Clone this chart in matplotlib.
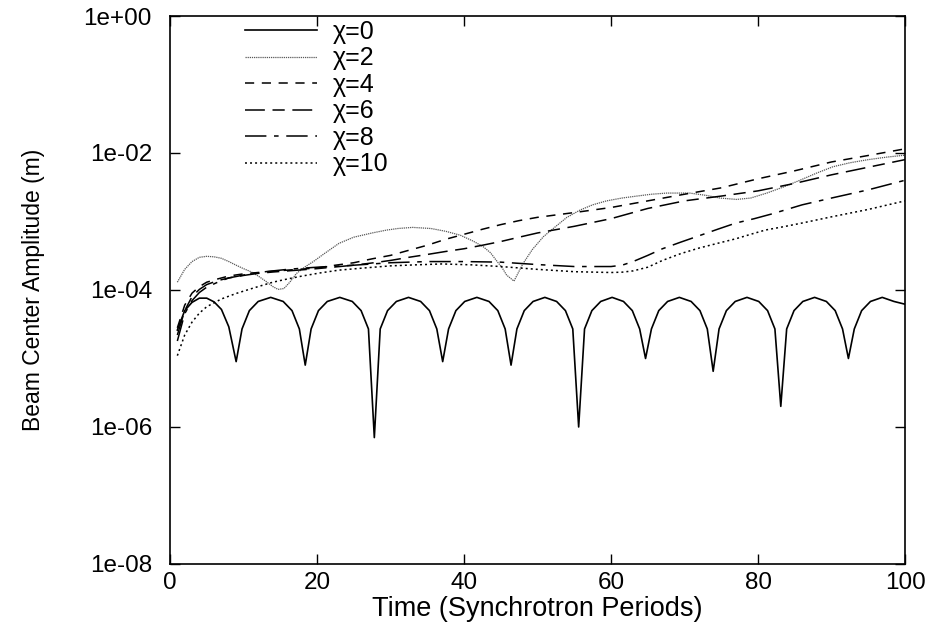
import matplotlib.pyplot as plt
import numpy as np

# chi = 0 (solid, oscillating)
t0 = [1, 2, 3, 4, 5, 6, 7, 8, 9.0,
      9.8, 10.8, 12.0, 13.7, 15.4, 16.6, 17.6, 18.4,
      19.2, 20.2, 21.4, 23.1, 24.8, 26.0, 27.0, 27.8,
      28.6, 29.6, 30.8, 32.45, 34.1, 35.3, 36.3, 37.1,
      37.9, 38.9, 40.1, 41.75, 43.4, 44.6, 45.6, 46.4,
      47.2, 48.2, 49.4, 51.0, 52.6, 53.8, 54.8, 55.6,
      56.4, 57.4, 58.6, 60.15, 61.7, 62.9, 63.9, 64.7,
      65.5, 66.5, 67.7, 69.3, 70.9, 72.1, 73.1, 73.9,
      74.7, 75.7, 76.9, 78.5, 80.1, 81.3, 82.3, 83.1,
      83.9, 84.9, 86.1, 87.7, 89.3, 90.5, 91.5, 92.3,
      93.1, 94.1, 95.3, 96.9, 98.5, 100]
a0 = [2.6e-5, 5.0e-5, 6.6e-5, 7.6e-5, 7.6e-5, 6.7e-5, 5.2e-5, 2.9e-5, 9e-6,
      2.7e-5, 5.0e-5, 6.8e-5, 7.8e-5, 6.8e-5, 5.0e-5, 2.7e-5, 8e-6,
      2.7e-5, 5.0e-5, 6.8e-5, 7.8e-5, 6.8e-5, 5.0e-5, 2.7e-5, 7e-7,
      2.7e-5, 5.0e-5, 6.8e-5, 7.8e-5, 6.8e-5, 5.0e-5, 2.7e-5, 9e-6,
      2.7e-5, 5.0e-5, 6.8e-5, 7.8e-5, 6.8e-5, 5.0e-5, 2.7e-5, 8e-6,
      2.7e-5, 5.0e-5, 6.8e-5, 7.8e-5, 6.8e-5, 5.0e-5, 2.7e-5, 1e-6,
      2.7e-5, 5.0e-5, 6.8e-5, 7.8e-5, 6.8e-5, 5.0e-5, 2.7e-5, 1e-5,
      2.7e-5, 5.0e-5, 6.8e-5, 7.8e-5, 6.8e-5, 5.0e-5, 2.7e-5, 6.5e-6,
      2.7e-5, 5.0e-5, 6.8e-5, 7.8e-5, 6.8e-5, 5.0e-5, 2.7e-5, 2e-6,
      2.7e-5, 5.0e-5, 6.8e-5, 7.8e-5, 6.8e-5, 5.0e-5, 2.7e-5, 1e-5,
      2.7e-5, 5.0e-5, 6.8e-5, 7.8e-5, 6.8e-5, 6.2e-5]

# chi = 2
t2 = [1, 2, 3, 4, 5, 6, 7, 8, 9, 10, 11, 12, 13, 14, 14.7, 15.5, 16.3, 17.2, 18.3,
      19.5, 21, 23, 25, 27.5, 29.5, 31, 33, 35.5, 37.5, 39.5, 41.2, 42.6, 43.6,
      44.4, 45.2, 45.8, 46.8, 48, 49.3, 50.8, 52.5, 54, 55.8, 57.5, 59.4, 61.5,
      63.5, 65.5, 67.6, 70.7, 73, 74.8, 77.1, 79, 81.2, 83.5, 85.7, 88, 90.2,
      92.5, 95, 97.5, 100]
a2 = [1.3e-4, 2.0e-4, 2.6e-4, 3.0e-4, 3.1e-4, 3.05e-4, 2.9e-4, 2.6e-4, 2.3e-4,
      2.05e-4, 1.85e-4, 1.6e-4, 1.35e-4, 1.12e-4, 1.02e-4, 1.05e-4, 1.3e-4,
      1.74e-4, 2.15e-4, 2.6e-4, 3.4e-4, 4.8e-4, 5.9e-4, 6.8e-4, 7.5e-4, 7.9e-4,
      8.2e-4, 7.9e-4, 7.2e-4, 6.3e-4, 5.2e-4, 4.3e-4, 3.5e-4, 2.7e-4, 2.1e-4,
      1.65e-4, 1.35e-4, 2.4e-4, 3.9e-4, 6.0e-4, 8.5e-4, 1.15e-3, 1.47e-3,
      1.75e-3, 2.0e-3, 2.2e-3, 2.35e-3, 2.5e-3, 2.6e-3, 2.6e-3, 2.4e-3, 2.2e-3,
      2.1e-3, 2.2e-3, 2.6e-3, 3.2e-3, 4.0e-3, 5.1e-3, 6.3e-3, 7.2e-3, 8.0e-3,
      8.7e-3, 9.3e-3]

# chi = 4
t4 = [1, 2, 3, 4, 5, 6.5, 8, 10, 12, 14, 16, 18, 20, 22.5, 25, 27.5, 30, 32.5,
      35, 37.5, 40, 42.5, 45, 47.5, 50, 55, 60, 65, 70, 75, 80, 85, 90, 95, 100]
a4 = [2.8e-5, 6.0e-5, 9.0e-5, 1.12e-4, 1.3e-4, 1.45e-4, 1.6e-4, 1.72e-4, 1.8e-4,
      1.88e-4, 1.95e-4, 2.02e-4, 2.1e-4, 2.3e-4, 2.5e-4, 2.85e-4, 3.2e-4, 3.8e-4,
      4.5e-4, 5.5e-4, 6.5e-4, 7.7e-4, 9.0e-4, 1.03e-3, 1.15e-3, 1.35e-3, 1.6e-3,
      2.0e-3, 2.5e-3, 3.1e-3, 4.2e-3, 5.5e-3, 7.4e-3, 9.2e-3, 1.15e-2]

# chi = 6
t6 = [1, 2, 3, 4, 5, 6.5, 8, 10, 12, 14, 16, 18, 20, 22.5, 25, 27.5, 30, 32.5,
      35, 37.5, 40, 42.5, 45, 47.5, 50, 55, 60, 65, 70, 75, 80, 85, 90, 95, 100]
a6 = [2.2e-5, 5.0e-5, 8.0e-5, 1.02e-4, 1.2e-4, 1.37e-4, 1.5e-4, 1.63e-4, 1.75e-4,
      1.83e-4, 1.9e-4, 1.97e-4, 2.05e-4, 2.17e-4, 2.3e-4, 2.48e-4, 2.7e-4, 3.0e-4,
      3.3e-4, 3.65e-4, 4.0e-4, 4.5e-4, 5.1e-4, 5.9e-4, 6.8e-4, 8.5e-4, 1.1e-3,
      1.55e-3, 2.0e-3, 2.35e-3, 2.8e-3, 3.6e-3, 4.8e-3, 6.2e-3, 8.0e-3]

# chi = 8
t8 = [1, 2, 3, 4, 5, 6.5, 8, 10, 12, 14, 16, 18, 20, 22.5, 25, 27.5, 30, 35, 40,
      45, 50, 55, 60, 61.5, 63, 65, 67, 69.5, 72, 74.5, 77, 79.5, 82, 86, 90,
      95, 100]
a8 = [1.8e-5, 4.5e-5, 7.0e-5, 9.2e-5, 1.1e-4, 1.3e-4, 1.5e-4, 1.65e-4, 1.8e-4,
      1.9e-4, 2.0e-4, 2.08e-4, 2.15e-4, 2.22e-4, 2.3e-4, 2.4e-4, 2.5e-4, 2.6e-4,
      2.6e-4, 2.55e-4, 2.35e-4, 2.2e-4, 2.2e-4, 2.3e-4, 2.6e-4, 3.2e-4, 4.0e-4,
      5.0e-4, 6.2e-4, 7.7e-4, 9.5e-4, 1.1e-3, 1.3e-3, 1.75e-3, 2.2e-3, 2.9e-3,
      4.0e-3]

# chi = 10
t10 = [1, 2, 3, 4, 5, 7, 9, 11.5, 14, 16, 18, 20.5, 23, 26.5, 30, 33.5, 37, 41,
       45, 50, 55, 60, 61.5, 63, 65, 67, 69.5, 72, 74.5, 77, 79, 81, 83.5, 86,
       90, 95, 100]
a10 = [1.1e-5, 2.2e-5, 3.4e-5, 4.6e-5, 5.7e-5, 7.4e-5, 8.9e-5, 1.08e-4, 1.3e-4,
       1.45e-4, 1.6e-4, 1.78e-4, 1.95e-4, 2.1e-4, 2.25e-4, 2.33e-4, 2.4e-4,
       2.33e-4, 2.2e-4, 2.0e-4, 1.85e-4, 1.8e-4, 1.82e-4, 1.9e-4, 2.15e-4,
       2.7e-4, 3.4e-4, 4.1e-4, 4.8e-4, 5.6e-4, 6.5e-4, 7.5e-4, 8.4e-4, 9.5e-4,
       1.17e-3, 1.5e-3, 2.0e-3]

labels = ["\u03c7=0", "\u03c7=2", "\u03c7=4", "\u03c7=6", "\u03c7=8", "\u03c7=10"]
ytick_vals = [1e-8, 1e-6, 1e-4, 1e-2, 1e0]
ytick_labels = ["1e-08", "1e-06", "1e-04", "1e-02", "1e+00"]
xtick_vals = [0, 20, 40, 60, 80, 100]

plt.rcParams['font.family'] = ['Liberation Sans', 'DejaVu Sans']

fig = plt.figure(figsize=(9.33, 6.3), dpi=100)
ax = fig.add_axes([0.1822, 0.1048, 0.7878, 0.8698])

ax.plot(t0, a0, color='black', lw=1.2, label=labels[0])
ax.plot(t2, a2, color='0.35', lw=0.9, linestyle=(0, (1, 0.7)), label=labels[1])
ax.plot(t4, a4, color='black', lw=1.1, linestyle=(0, (6, 5)), label=labels[2])
ax.plot(t6, a6, color='black', lw=1.1, linestyle=(0, (13, 5, 8, 5)), label=labels[3])
ax.plot(t8, a8, color='black', lw=1.1, linestyle=(0, (14, 5, 3, 5)), label=labels[4])
ax.plot(t10, a10, color='black', lw=1.1, linestyle=(0, (1.3, 2)), label=labels[5])

ax.set_yscale('log')
ax.set_xlim(0, 100)
ax.set_ylim(1e-8, 1e0)
ax.set_yticks(ytick_vals)
ax.set_yticklabels(ytick_labels)
ax.yaxis.set_minor_locator(plt.NullLocator())
ax.set_xticks(xtick_vals)
ax.tick_params(direction='in', length=7, width=1, top=True, right=True,
               labelsize=17.5)
ax.tick_params(axis='y', pad=13)
ax.tick_params(axis='x', pad=6)
for s in ax.spines.values():
    s.set_linewidth(1.2)

ax.set_xlabel("Time (Synchrotron Periods)", fontsize=19.5, labelpad=1)
ax.set_ylabel("Beam Center Amplitude (m)", fontsize=16.5, labelpad=28)

ax.legend(loc='upper left', bbox_to_anchor=(0.078, 1.025), frameon=False,
          fontsize=18, handlelength=2.9, handletextpad=0.6, labelspacing=0.1,
          borderpad=0.2)

fig.savefig("out.png", dpi=100)
